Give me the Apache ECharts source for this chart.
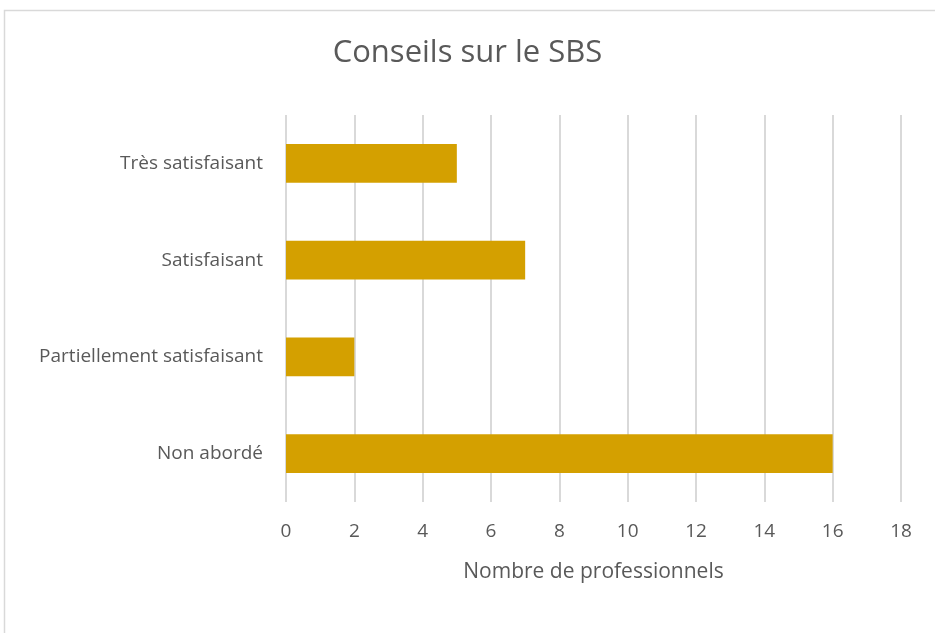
<!DOCTYPE html>
<html>
<head>
<meta charset="utf-8">
<script src="https://cdn.jsdelivr.net/npm/echarts@6/dist/echarts.min.js"></script>
<style>
  html, body { margin: 0; padding: 0; background: #fff; }
  #chart { width: 935px; height: 633px; }
</style>
</head>
<body>
<div id="chart"></div>
<script>
// categories from bottom to top (category axis on y)
const categories = ['Non abordé', 'Partiellement satisfaisant', 'Satisfaisant', 'Très satisfaisant']
const values = [16, 2, 7, 5]
const xTicks = { min: 0, max: 18, interval: 2 }

const chart = echarts.init(document.getElementById('chart'))
const textColor = '#595959'
const fontFamily = '"Open Sans", "Noto Sans", sans-serif'

const option = {
  animation: false,
  textStyle: { fontFamily: fontFamily },
  title: {
    text: 'Conseils sur le SBS',
    left: 'center',
    top: 33,
    textStyle: { fontSize: 31, fontWeight: 'normal', color: textColor, fontFamily: fontFamily }
  },
  graphic: [
    {
      type: 'rect',
      shape: { x: 4.5, y: 10.5, width: 1000, height: 1000 },
      style: { fill: 'none', stroke: '#d9d9d9', lineWidth: 1.5 },
      silent: true
    }
  ],
  grid: { left: 286, right: 34, top: 115, bottom: 131 },
  xAxis: {
    type: 'value',
    min: xTicks.min,
    max: xTicks.max,
    interval: xTicks.interval,
    name: 'Nombre de professionnels',
    nameLocation: 'middle',
    nameGap: 60,
    nameTextStyle: { fontSize: 21, color: textColor },
    axisLine: { show: false },
    axisTick: { show: false },
    axisLabel: { fontSize: 19, color: textColor, margin: 20 },
    splitLine: { lineStyle: { color: '#d9d9d9', width: 2 } }
  },
  yAxis: {
    type: 'category',
    data: categories,
    axisLine: { show: false },
    axisTick: { show: false },
    axisLabel: { fontSize: 19, color: textColor, margin: 23 }
  },
  series: [
    {
      type: 'bar',
      data: values,
      barCategoryGap: '60%',
      itemStyle: { color: '#d4a000' }
    }
  ]
}
chart.setOption(option)
</script>
</body>
</html>
